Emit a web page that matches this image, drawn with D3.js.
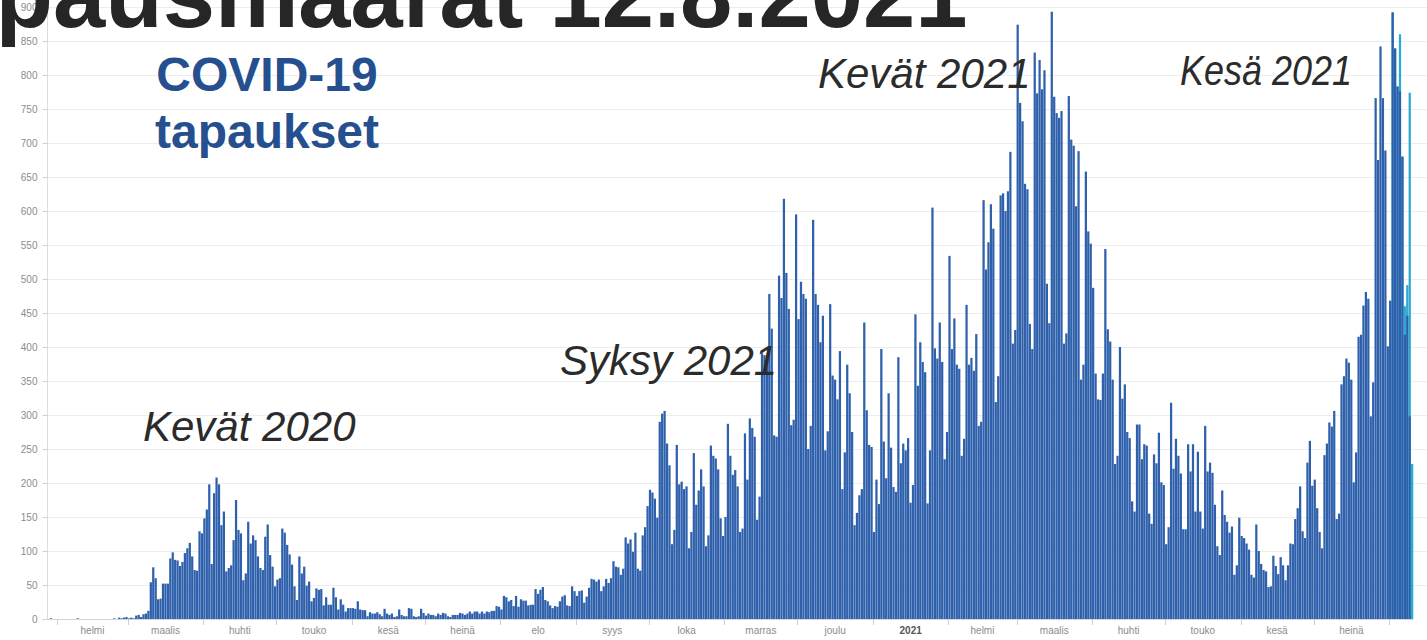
<!DOCTYPE html>
<meta charset="utf-8">
<style>
body { margin: 0; background: #fff; }
svg { display: block; font-family: "Liberation Sans", Arial, sans-serif; }
.grid line { stroke: #ededed; stroke-width: 1; }
.yaxis text, .xaxis text { fill: #8c8c8c; font-size: 10px; }
.yaxis line, .xaxis line { stroke: #cfcfcf; }
.yaxis path { stroke: #dcdcdc; }
.bar { fill: #2e60ab; }
.prelim { fill: #2aa9d3; }
.note { font-style: italic; font-size: 42px; fill: #2b2b2b; }
.label { font-weight: bold; font-size: 48px; fill: #254f8e; }
</style>
<body>
<script src="https://d3js.org/d3.v7.min.js"></script>
<script>

// daily confirmed cases, first bar = 27.1.2020
var cases2020 = [
  0,0,1,0,0,                                                        // tammi (27.-31.)
  0,0,0,0,0,0,0,0,1,0, 0,0,0,0,0,0,0,0,0,0, 0,0,0,1,0,2,1,2,3,      // helmi
  1,2,1,5,6,3,7,8,12,54, 76,60,29,30,52,52,52,89,98,87, 86,78,84,97,104,112,92,72,71,129, 126, // maalis
  148,161,198,81,185,208,198,138,158,70, 75,79,116,175,131,126,57,67,143,111, 123,116,92,75,72,121,139,94,77,48, // huhti
  58,60,133,127,109,95,80,48,28,92, 67,77,49,55,26,31,45,43,44,20, 32,21,21,46,32,14,29,21,11,16, 16, // touko
  16,15,26,14,13,13,4,10,8,8, 10,7,4,15,8,6,8,3,4,14, 6,4,4,16,15,4,3,4,15,9, // kesä
  5,8,6,6,4,8,6,9,8,4, 3,6,6,6,9,8,6,8,11,8, 11,11,8,11,8,11,10,12,12,19, 18, // heinä
  14,34,32,26,28,19,34,18,29,27, 27,20,21,21,44,37,43,47,28,26, 20,16,19,18,26,33,35,20,19,48, 41, // elo
  34,41,42,24,33,46,59,58,55,58, 41,48,59,53,60,85,77,76,65,74, 120,111,117,99,127,74,71,123,135,166, // syys
  190,186,177,149,290,302,306,258,226,110, 131,256,198,202,191,195,104,128,244,168, 189,220,195,107,123,255,240,236,220,148, 122, // loka
  150,287,240,212,219,195,128,133,273,205, 295,281,268,146,180,391,388,380,478,427, 270,268,505,472,618,509,456,285,293,595, // marras
  441,496,478,471,250,284,587,478,462,407, 446,248,276,463,358,352,323,394,191,245, 374,332,275,138,156,182,191,436,307,256, 253 // joulu
];
var cases2021 = [
  128,205,169,397,261,207,332,252,194,187, 385,229,258,248,266,171,197,448,343,407, 378,363,170,248,605,398,383,436,378,235, 275, // tammi
  534,397,442,374,368,240,265,462,374,384, 365,419,284,290,616,514,554,610,574,319, 357,623,626,600,629,687,405,425, // helmi
  874,759,732,640,632,434,397,833,773,822, 779,807,493,435,893,768,744,737,747,405, 420,769,705,696,607,688,352,374,658,570, 552, // maalis
  487,361,323,322,361,544,426,408,352,228, 240,400,324,345,275,266,173,158,286,286, 235,257,255,155,140,242,229,274,201,197, // huhti
  110,135,318,221,265,240,214,132,132,257, 217,257,158,246,158,133,284,217,230,215, 168,107,94,189,153,143,127,136,65,79, 149, // touko
  122,119,111,102,65,61,139,100,81,72, 70,47,48,93,78,66,91,79,57,79, 111,110,147,163,195,129,119,230,262,196, // kesä
  205,163,128,104,241,258,289,283,306,147, 155,345,357,383,377,352,201,245,415,418, 461,481,471,298,348,766,675,842,766,689, 401, // heinä
  468,892,839,783,776,680,418,446,298,0 // elo
];
// last days incl. cases still being added (lighter bars), 1.8.-10.8.2021
var prelimAug = [468,892,839,783,860,680,460,491,774,228];

var monthNames = ["tammi","helmi","maalis","huhti","touko","kesä","heinä","elo","syys","loka","marras","joulu"];
var yTicks = [0,50,100,150,200,250,300,350,400,450,500,550,600,650,700,750,800,850,900];

var startDate = Date.UTC(2020, 0, 27);
var cases = cases2020.concat(cases2021);
var data = cases.map(function(v, i) {
    return { date: d3.utcDay.offset(new Date(startDate), i), value: v };
});
var prelimStart = data.length - prelimAug.length;
var prelim = prelimAug.map(function(v, i) { return { date: data[prelimStart + i].date, value: v }; });

var width = 1427, height = 640;
var dayW = 2.435;
var x0 = 45, baseY = 619;

var x = d3.scaleUtc()
    .domain([new Date(startDate), d3.utcDay.offset(new Date(startDate), data.length)])
    .range([x0, x0 + data.length * dayW]);
var y = d3.scaleLinear()
    .domain([0, 900])
    .range([baseY, baseY - 900 * 0.68]);

var svg = d3.select("body").append("svg")
    .attr("width", width)
    .attr("height", height);

// grid lines
svg.append("g").attr("class", "grid")
    .selectAll("line").data(yTicks.slice(1)).enter().append("line")
    .attr("x1", 47).attr("x2", width)
    .attr("y1", function(d) { return Math.round(y(d)) + 0.5; })
    .attr("y2", function(d) { return Math.round(y(d)) + 0.5; });

// y axis
svg.append("g").attr("class", "yaxis")
    .attr("transform", "translate(47.5,0)")
    .call(d3.axisLeft(y).tickValues(yTicks).tickSize(5).tickPadding(5).tickSizeOuter(0))
    .call(function(g) { g.select(".domain").attr("d", "M0,0V" + baseY); });

// bars
function barWidth(d) { return x(d3.utcDay.offset(d.date, 1)) - x(d.date) - 0.2; }

svg.append("g").selectAll("rect").data(prelim).enter().append("rect")
    .attr("class", "prelim")
    .attr("x", function(d) { return x(d.date); })
    .attr("width", barWidth)
    .attr("y", function(d) { return y(d.value); })
    .attr("height", function(d) { return baseY - y(d.value); });

svg.append("g").selectAll("rect").data(data).enter().append("rect")
    .attr("class", "bar")
    .attr("x", function(d) { return x(d.date); })
    .attr("width", barWidth)
    .attr("y", function(d) { return y(d.value); })
    .attr("height", function(d) { return baseY - y(d.value); });

// x axis: ticks at month starts, labels mid-month
var months = d3.utcMonth.range(new Date(Date.UTC(2020, 1, 1)), new Date(Date.UTC(2021, 7, 2)));
var xg = svg.append("g").attr("class", "xaxis");
xg.append("line").attr("x1", x0).attr("x2", x.range()[1])
    .attr("y1", baseY + 0.5).attr("y2", baseY + 0.5).style("stroke", "#d5d5d5");
xg.selectAll(".tick").data(months).enter().append("line")
    .attr("x1", function(d) { return Math.round(x(d)) + 0.5; })
    .attr("x2", function(d) { return Math.round(x(d)) + 0.5; })
    .attr("y1", baseY).attr("y2", baseY + 6);
xg.selectAll("text").data(months.slice(0, -1)).enter().append("text")
    .attr("x", function(d) { return (x(d) + x(d3.utcMonth.offset(d, 1))) / 2; })
    .attr("y", 634)
    .attr("text-anchor", "middle")
    .style("font-weight", function(d) { return d.getUTCMonth() === 0 ? "bold" : null; })
    .style("fill", function(d) { return d.getUTCMonth() === 0 ? "#555" : null; })
    .text(function(d) { return d.getUTCMonth() === 0 ? d.getUTCFullYear() : monthNames[d.getUTCMonth()]; });

// annotations
svg.append("text").attr("class", "label").attr("x", 267).attr("y", 91)
    .attr("text-anchor", "middle").text("COVID-19");
svg.append("text").attr("class", "label").attr("x", 267).attr("y", 148)
    .attr("text-anchor", "middle").text("tapaukset");

var notes = [
    { t: "Kevät 2020", x: 143, y: 441, w: null },
    { t: "Syksy 2021", x: 560, y: 375, w: null },
    { t: "Kevät 2021", x: 818, y: 88, w: null },
    { t: "Kesä 2021", x: 1180, y: 85, w: 172 }
];
svg.selectAll(".note").data(notes).enter().append("text")
    .attr("class", "note")
    .attr("x", function(d) { return d.x; })
    .attr("y", function(d) { return d.y; })
    .attr("textLength", function(d) { return d.w; })
    .attr("lengthAdjust", function(d) { return d.w ? "spacingAndGlyphs" : null; })
    .text(function(d) { return d.t; });

// slide title, cut at the top edge
svg.append("text")
    .attr("x", -88).attr("y", 27)
    .style("font-weight", "bold").style("font-size", "94px").style("fill", "#262626")
    .text("tapausmäärät 12.8.2021");

</script>
</body>
